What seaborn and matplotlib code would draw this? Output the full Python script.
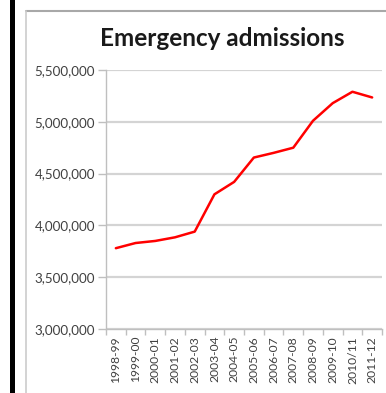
import matplotlib
matplotlib.use("Agg")
import matplotlib.pyplot as plt
import seaborn as sns
import pandas as pd
from matplotlib.patches import Rectangle
from matplotlib.ticker import FuncFormatter, FixedLocator

years = ["1998-99", "1999-00", "2000-01", "2001-02", "2002-03", "2003-04", "2004-05",
         "2005-06", "2006-07", "2007-08", "2008-09", "2009-10", "2010/11", "2011-12"]
admissions = [3780000, 3830000, 3850000, 3885000, 3940000, 4300000, 4420000,
              4655000, 4700000, 4750000, 5010000, 5180000, 5290000, 5235000]
y_ticks = [3000000, 3500000, 4000000, 4500000, 5000000, 5500000]
title = "Emergency admissions"

sns.set_theme(style="white")
plt.rcParams['font.family'] = ['Lato', 'DejaVu Sans']

W, H = 386, 393
fig = plt.figure(figsize=(W / 100, H / 100), dpi=100)
fig.patch.set_facecolor("white")

# decorations: black bar and chart border
fig.patches.append(Rectangle((10 / W, 0), 5 / W, 1, transform=fig.transFigure,
                             facecolor="black", edgecolor="none", zorder=0))
fig.lines.append(plt.Line2D([26.5 / W, 1], [1 - 10.5 / H, 1 - 10.5 / H], transform=fig.transFigure,
                            color="#a8a8a8", lw=1.5))
fig.lines.append(plt.Line2D([26.5 / W, 26.5 / W], [0, 1 - 10.5 / H], transform=fig.transFigure,
                            color="#cccccc", lw=1.2))

ax = fig.add_axes([106 / W, 1 - 329 / H, (382 - 106) / W, (329 - 70) / H])
df = pd.DataFrame({"year": years, "admissions": admissions})
sns.lineplot(data=df, x="year", y="admissions", ax=ax, color="#ff0000", lw=1.8, sort=False)

ax.set_xlim(-0.5, len(years) - 0.5)
ax.set_ylim(y_ticks[0], y_ticks[-1])
ax.set_yticks(y_ticks)
ax.yaxis.set_major_formatter(FuncFormatter(lambda v, p: f"{int(v):,}"))
ax.grid(axis="y", color="#d4d4d4", lw=1.6)
ax.grid(axis="x", visible=False)
ax.set_xlabel("")
ax.set_ylabel("")

for s in ["top", "right"]:
    ax.spines[s].set_visible(False)
for s in ["left", "bottom"]:
    ax.spines[s].set_color("#bfbfbf")
    ax.spines[s].set_linewidth(1.0)

ax.set_xticks(range(len(years)))
ax.set_xticklabels(years, rotation=90, fontsize=8.7, color="#404040")
ax.xaxis.set_minor_locator(FixedLocator([i - 0.5 for i in range(len(years) + 1)]))
ax.tick_params(axis="x", which="major", length=0, pad=5)
ax.tick_params(axis="x", which="minor", length=4, color="#bfbfbf", width=1, direction="out", bottom=True)
ax.tick_params(axis="y", which="major", length=6, color="#bfbfbf", width=1, direction="out",
               left=True, labelsize=9.6, labelcolor="#404040", pad=2)

fig.text(222 / W, 1 - 38 / H, title, ha="center", va="center", fontsize=17.5,
         fontweight="bold", color="#1a1a1a")

fig.savefig("out.png", dpi=100)
